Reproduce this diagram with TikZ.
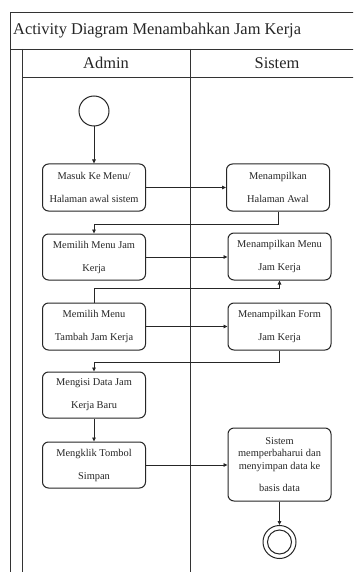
\documentclass[tikz,border=0pt]{standalone}
\usepackage{fontspec}
\setmainfont{Liberation Serif}
\usetikzlibrary{arrows.meta}
\begin{document}
\begin{tikzpicture}[x=1pt,y=-1pt,
  frame/.style={draw=black!80,line width=0.9pt},
  act/.style={draw=black!85,line width=1pt,rounded corners=6pt,minimum width=103pt,
    inner sep=0pt,align=center,font=\fontsize{10.4}{23}\selectfont,text=black!85},
  arr/.style={draw=black!85,line width=0.9pt,-{Triangle[length=4pt,width=3.6pt]}},
  lane/.style={font=\fontsize{16.4}{18}\selectfont,text=black!85},
]
\useasboundingbox (0,0) rectangle (353,572);
\fill[white] (0,0) rectangle (353,572);
% frame
\begin{scope}
\clip (0,0) rectangle (353,572);
\draw[frame] (10,590) -- (10,12) -- (380,12);
\draw[frame] (10,49) -- (380,49);
\draw[frame] (22,49) -- (22,590);
\draw[frame] (22,77) -- (380,77);
\draw[frame] (190,49) -- (190,590);
\end{scope}
\node[lane,anchor=west,inner sep=0pt] (title) at (13,31) {Activity Diagram Menambahkan Jam Kerja};
\node[lane] (hadmin) at (106,63) {Admin};
\node[lane] (hsistem) at (277,63) {Sistem};
% nodes
\node[circle,draw=black!85,line width=1pt,minimum size=30pt,inner sep=0pt] (start) at (94,111) {};
\node[act,minimum height=47pt] (b1) at (94,187.5) {Masuk Ke Menu/\\Halaman awal sistem};
\node[act,minimum height=47pt] (s1) at (278,187.5) {Menampilkan\\Halaman Awal};
\node[act,minimum height=46pt] (b2) at (94,257) {Memilih Menu Jam\\Kerja};
\node[act,minimum height=47pt] (s2) at (279.5,256.5) {Menampilkan Menu\\Jam Kerja};
\node[act,minimum height=47pt] (b3) at (94,326.5) {Memilih Menu\\Tambah Jam Kerja};
\node[act,minimum height=47pt] (s3) at (279.5,326.5) {Menampilkan Form\\Jam Kerja};
\node[act,minimum height=46pt] (b4) at (94,395) {Mengisi Data Jam\\Kerja Baru};
\node[act,minimum height=46pt] (b5) at (94,465) {Mengklik Tombol\\Simpan};
\node[act,minimum height=73pt,font=\fontsize{10.4}{12.5}\selectfont] (s4) at (279.5,464.5) {Sistem\\memperbaharui dan\\menyimpan data ke\\[9.5pt]basis data};
\node[circle,draw=black!85,line width=1pt,minimum size=33pt,inner sep=0pt] (end) at (279.5,542) {};
\node[circle,draw=black!85,line width=1pt,minimum size=24pt,inner sep=0pt] (endin) at (end.center) {};
% connectors
\draw[arr] (start) -- (b1.north);
\draw[arr] (b1.east) -- (s1.west |- b1.east);
\draw[arr] (s1.south) -- ++(0,13) -| (b2.north);
\draw[arr] (b2.east) -- (s2.west |- b2.east);
\draw[arr] (b3.north) -- ++(0,-14) -| (s2.south);
\draw[arr] (b3.east) -- (s3.west |- b3.east);
\draw[arr] (s3.south) -- ++(0,12) -| (b4.north);
\draw[arr] (b4.south) -- (b5.north);
\draw[arr] (b5.east) -- (s4.west |- b5.east);
\draw[arr] (s4.south) -- (end.north);
\end{tikzpicture}
\end{document}
